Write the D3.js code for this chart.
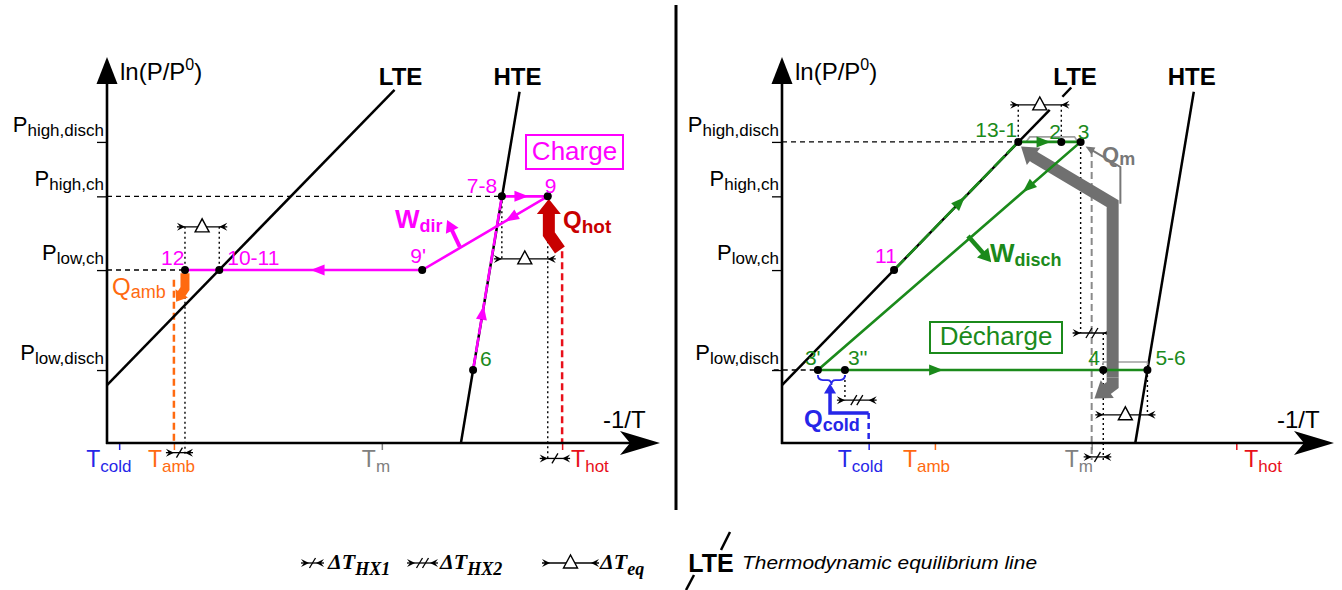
<!DOCTYPE html>
<html><head><meta charset="utf-8">
<script src="https://cdn.jsdelivr.net/npm/d3@7"></script>
<style>
html,body{margin:0;padding:0;background:#fff;}
svg{display:block;}
text{font-family:"Liberation Sans",Arial,sans-serif;}
</style></head><body>
<svg id="c" width="1342" height="590"></svg>
<script>
// ---------------- DATA ----------------
const pressureLevels = [78.0, 63.9, 44.8, 18.9];
const pressureSubs = ["high,disch", "high,ch", "low,ch", "low,disch"];
const lteLine = [[0, 15], [52, 91.5]];
const hteLine = [[64, 0], [74.6, 91]];
const tempNames = ["cold", "amb", "m", "hot"];
const chargeTemps = [2.2, 12.1, 49.7, 82.3];
const dischTemps = [15.7, 27.7, 56.1, 82.3];
const chargePointNames = ["6", "7-8", "9", "9'", "10-11", "12"];
const chargePointX = [66.2, 71.4, 79.7, 57.0, 20.3, 14.1];
const chargePointY = [18.9, 63.9, 63.9, 44.8, 44.8, 44.8];
const dischPointNames = ["11", "13-1", "2", "3", "3'", "3''", "4", "5-6"];
const dischPointX = [20.3, 42.8, 50.6, 54.1, 6.5, 11.4, 58.2, 66.2];
const dischPointY = [44.8, 78.0, 78.0, 78.0, 18.9, 18.9, 18.9, 18.9];
const legendItems = ["HX1", "HX2", "eq"];

// ---------------- LAYOUT / STYLE ----------------
const C = {mag:"#ff00ff", green:"#1b8a1b", red:"#e8101a", dred:"#c80000", orange:"#ff6a10",
           blue:"#2626e8", gray:"#707070", lgray:"#a0a0a0", tgray:"#777"};
const tempColors = [C.blue, C.orange, "#808080", C.red];
const chargeTempOffsets = [-33, -26, -20, 9];
const dischTempOffsets = [-31, -32, -27, 8];
const chargeLabelOff = {"6":[7,-4,C.green], "7-8":[-35,-3,C.mag], "9":[-3,-3,C.mag], "9'":[-12,-7,C.mag], "10-11":[8,-5,C.mag], "12":[-24,-5,C.mag]};
const dischLabelOff = {"11":[-19,-7,C.mag], "13-1":[-43,-5,C.green], "2":[-12,-3,C.green], "3":[-3,-3,C.green], "3'":[-13,-5,C.green], "3''":[3,-5,C.green], "4":[-15,-5,C.green], "5-6":[8,-5,C.green]};

const svg = d3.select("#c");
const y = d3.scaleLinear().domain([0, 100]).range([443, 57]);
const xL = d3.scaleLinear().domain([0, 100]).range([107, 660]);
const xR = d3.scaleLinear().domain([0, 100]).range([782, 1334]);

// ---------------- HELPERS ----------------
function px(xs, d) { return [xs(d[0]), y(d[1])]; }
function polyline(g, xs, pts, stroke, w, dash) {
  const p = g.append("path").attr("d", d3.line().x(d => xs(d[0])).y(d => y(d[1]))(pts))
    .attr("fill", "none").attr("stroke", stroke).attr("stroke-width", w).attr("stroke-linejoin", "miter");
  if (dash) p.attr("stroke-dasharray", dash);
  return p;
}
function arrowHead(g, tip, dir, len, w, color) {
  const L = Math.hypot(dir[0], dir[1]); const ux = dir[0] / L, uy = dir[1] / L;
  const bx = tip[0] - ux * len, by = tip[1] - uy * len, qx = -uy, qy = ux;
  g.append("path").attr("d", `M${tip[0]},${tip[1]}L${bx + qx * w / 2},${by + qy * w / 2}L${bx - qx * w / 2},${by - qy * w / 2}Z`).attr("fill", color);
}
function pathArrow(g, xs, a, b, t, color) {
  const A = px(xs, a), B = px(xs, b);
  const tip = [A[0] + t * (B[0] - A[0]), A[1] + t * (B[1] - A[1])];
  arrowHead(g, tip, [B[0] - A[0], B[1] - A[1]], 14, 11, color);
}
function thickArrow(g, xs, shaft, tip, width, len, w, color) {
  const T = px(xs, tip), S = shaft.map(d => px(xs, d));
  const last = S[S.length - 1];
  const dir = [T[0] - last[0], T[1] - last[1]];
  const L = Math.hypot(dir[0], dir[1]);
  const base = [T[0] - dir[0] / L * (len - 1), T[1] - dir[1] / L * (len - 1)];
  const pts = S.concat([base]);
  g.append("path").attr("d", d3.line()(pts)).attr("fill", "none").attr("stroke", color)
    .attr("stroke-width", width).attr("stroke-linejoin", "miter");
  arrowHead(g, T, dir, len, w, color);
}
function subText(g, x, yy, main, sub, o) {
  const t = g.append("text").attr("x", x).attr("y", yy).attr("fill", o.color || "#000")
    .attr("font-weight", o.weight || "normal").attr("font-size", o.size)
    .attr("text-anchor", o.anchor || "start");
  if (o.family) t.style("font-family", o.family);
  if (o.italic) t.attr("font-style", "italic");
  t.append("tspan").text(main);
  if (sub) t.append("tspan").attr("font-size", o.subSize).attr("dy", o.subDy === undefined ? 5 : o.subDy).text(sub);
  return t;
}
function dimMarker(g, x1, x2, yy, type) {
  const e = 8;
  g.append("line").attr("x1", x1 - e).attr("x2", x2 + e).attr("y1", yy).attr("y2", yy)
    .attr("stroke", "#000").attr("stroke-width", 1.3);
  g.append("path").attr("d", `M${x1 - e},${yy - 4}L${x1},${yy}L${x1 - e},${yy + 4}L${x1 - e + 3},${yy}Z`).attr("fill", "#000");
  g.append("path").attr("d", `M${x2 + e},${yy - 4}L${x2},${yy}L${x2 + e},${yy + 4}L${x2 + e - 3},${yy}Z`).attr("fill", "#000");
  const cx = (x1 + x2) / 2;
  if (type === "eq") {
    g.append("path").attr("d", `M${cx - 7},${yy + 5}L${cx},${yy - 8}L${cx + 7},${yy + 5}Z`)
      .attr("fill", "#fff").attr("stroke", "#000").attr("stroke-width", 1.4);
  } else {
    const offs = type === "HX1" ? [0] : [-3, 3];
    offs.forEach(o => g.append("line").attr("x1", cx + o - 3).attr("y1", yy + 5).attr("x2", cx + o + 3).attr("y2", yy - 5)
      .attr("stroke", "#000").attr("stroke-width", 1.3));
  }
}
function dm(g, xs, xa, xb, yv, type) { dimMarker(g, xs(xa), xs(xb), y(yv), type); }

function drawAxes(g, xs, temps, tempOffsets) {
  const ya = d3.axisLeft(y).tickValues(pressureLevels).tickSize(10).tickSizeOuter(0).tickFormat("");
  const ag = g.append("g").attr("transform", `translate(${xs(0)},0)`).call(ya);
  ag.select(".domain").remove();
  ag.selectAll(".tick line").attr("stroke", "#000").attr("stroke-width", 1.3);
  const xa = d3.axisBottom(xs).tickValues(temps).tickSize(7).tickSizeOuter(0).tickFormat("");
  const bg = g.append("g").attr("transform", `translate(0,${y(0)})`).call(xa);
  bg.select(".domain").remove();
  bg.selectAll(".tick line").attr("stroke", (d, i) => tempColors[i]).attr("stroke-width", 1.5);
  g.append("line").attr("x1", xs(0)).attr("x2", xs(0)).attr("y1", y(0) + 1).attr("y2", y(93))
    .attr("stroke", "#000").attr("stroke-width", 2.6);
  arrowHead(g, [xs(0), y(100)], [0, -1], 27, 21, "#000");
  g.append("line").attr("x1", xs(0) - 1).attr("x2", xs(95)).attr("y1", y(0)).attr("y2", y(0))
    .attr("stroke", "#000").attr("stroke-width", 2.6);
  const tx = xs(100), ty = y(0);
  g.append("path").attr("d", `M${tx},${ty}L${tx - 40},${ty - 12}L${tx - 30},${ty}L${tx - 40},${ty + 12}Z`).attr("fill", "#000");
  pressureLevels.forEach((p, i) => subText(g, xs(0) - 3, y(p) - 10, "P", pressureSubs[i],
    {size: 22, subSize: 17, subDy: 4, anchor: "end"}));
  const t = g.append("text").attr("x", xs(0) + 13).attr("y", 80).attr("font-size", 24);
  t.append("tspan").text("ln(P/P");
  t.append("tspan").attr("font-size", 16).attr("dy", -10).text("0");
  t.append("tspan").attr("dy", 10).text(")");
  g.append("text").attr("x", xs(100) - 57).attr("y", 428).attr("font-size", 24).text("-1/T");
  temps.forEach((tv, i) => subText(g, xs(tv) + tempOffsets[i], 467, "T", tempNames[i],
    {size: 23, subSize: 17, subDy: 5, color: tempColors[i]}));
}
function drawEquilibrium(g, xs, lteSegs) {
  lteSegs.forEach(s => polyline(g, xs, s, "#000", 2.5));
  polyline(g, xs, hteLine, "#000", 2.5);
  g.append("text").attr("x", xs(lteLine[1][0]) + 6).attr("y", 85).attr("font-size", 24).attr("font-weight", "bold")
    .attr("text-anchor", "middle").text("LTE");
  g.append("text").attr("x", xs(hteLine[1][0]) - 2).attr("y", 85).attr("font-size", 24).attr("font-weight", "bold")
    .attr("text-anchor", "middle").text("HTE");
}
const thin = (g, xs, pts, color, dash, w) => polyline(g, xs, pts, color, w || 1.4, dash);

// ================= LEFT PANEL (charge) =================
const gL = svg.append("g");
const cp = {}; chargePointNames.forEach((n, i) => cp[n] = [chargePointX[i], chargePointY[i]]);
thin(gL, xL, [[0, pressureLevels[1]], cp["7-8"]], "#000", "5,4");
thin(gL, xL, [[0, pressureLevels[2]], cp["12"]], "#000", "5,4");
thin(gL, xL, [[cp["12"][0], 56], [cp["12"][0], -3]], "#000", "2,3");
thin(gL, xL, [[cp["10-11"][0], 56], cp["10-11"]], "#000", "2,3");
thin(gL, xL, [cp["7-8"], [cp["7-8"][0], 47.7]], "#000", "2,3");
thin(gL, xL, [cp["9"], [cp["9"][0], -4.4]], "#000", "2,3");
thin(gL, xL, [[chargeTemps[1], 42.3], [chargeTemps[1], 0]], C.orange, "7,4", 2.5);
thin(gL, xL, [[chargeTemps[3], 49.7], [chargeTemps[3], 0]], C.red, "7,4", 2.5);
drawEquilibrium(gL, xL, [lteLine]);
drawAxes(gL, xL, chargeTemps, chargeTempOffsets);
dm(gL, xL, cp["12"][0], cp["10-11"][0], 56, "eq");
dm(gL, xL, cp["7-8"][0], cp["9"][0], 47.7, "eq");
dm(gL, xL, chargeTemps[1], cp["12"][0], -2.5, "HX1");
dm(gL, xL, cp["9"][0], chargeTemps[3], -4, "HX1");
polyline(gL, xL, [cp["6"], cp["7-8"]], C.mag, 2.6, "15,3");
polyline(gL, xL, [cp["7-8"], cp["9"], cp["9'"], cp["10-11"], cp["12"]], C.mag, 2.6);
pathArrow(gL, xL, cp["6"], cp["7-8"], 0.37, C.mag);
pathArrow(gL, xL, cp["7-8"], cp["9"], 0.58, C.mag);
pathArrow(gL, xL, cp["9"], cp["9'"], 0.34, C.mag);
pathArrow(gL, xL, cp["9'"], cp["10-11"], 0.55, C.mag);
thickArrow(gL, xL, [[63.8, 50.8]], [61.5, 57.8], 4, 12, 14, C.mag);
thickArrow(gL, xL, [[81.9, 50.0], [79.9, 54.1]], [79.9, 63.2], 12, 15, 24, C.dred);
thickArrow(gL, xL, [[14.1, 44.0], [14.1, 40.0]], [12.5, 36.6], 9, 10, 15, C.orange);
chargePointNames.forEach(n => gL.append("circle").attr("cx", xL(cp[n][0])).attr("cy", y(cp[n][1])).attr("r", 4).attr("fill", "#000"));
chargePointNames.forEach(n => { const o = chargeLabelOff[n];
  gL.append("text").attr("x", xL(cp[n][0]) + o[0]).attr("y", y(cp[n][1]) + o[1]).attr("font-size", 21).attr("fill", o[2]).text(n); });
subText(gL, 395, 228, "W", "dir", {size: 26, subSize: 18, weight: "bold", color: C.mag, subDy: 4});
subText(gL, 563, 228, "Q", "hot", {size: 24, subSize: 19, weight: "bold", color: C.dred, subDy: 5});
subText(gL, 112, 295, "Q", "amb", {size: 24, subSize: 18, color: C.orange, subDy: 3});
gL.append("rect").attr("x", 526).attr("y", 135).attr("width", 97).attr("height", 34).attr("fill", "none").attr("stroke", C.mag).attr("stroke-width", 2);
gL.append("text").attr("x", 574.5).attr("y", 160).attr("font-size", 26).attr("fill", C.mag).attr("text-anchor", "middle").text("Charge");

// ================= RIGHT PANEL (discharge) =================
const gR = svg.append("g");
const dp = {}; dischPointNames.forEach((n, i) => dp[n] = [dischPointX[i], dischPointY[i]]);
thin(gR, xR, [[0, pressureLevels[0]], dp["13-1"]], "#000", "5,4");
thin(gR, xR, [[-1.5, pressureLevels[3]], dp["3'"]], "#000", "5,4");
thin(gR, xR, [[dp["13-1"][0], 87.6], dp["13-1"]], "#000", "2,3");
thin(gR, xR, [[dp["2"][0], 87.6], dp["2"]], "#000", "2,3");
thin(gR, xR, [dp["3"], [dp["3"][0], 28.5]], "#000", "2,3");
thin(gR, xR, [[dp["4"][0], 28.5], [dp["4"][0], -4.4]], "#000", "2,3");
thin(gR, xR, [dp["5-6"], [dp["5-6"][0], 7.3]], "#000", "2,3");
thin(gR, xR, [dp["3''"], [dp["3''"][0], 11.1]], "#000", "2,3");
thin(gR, xR, [[dischTemps[2], 75.9], [dischTemps[2], -4.4]], "#8a8a8a", "7,4", 2);
thin(gR, xR, [[dischTemps[0], 7.8], [dischTemps[0], 0]], C.blue, "6,4", 2.5);
drawEquilibrium(gR, xR, [[lteLine[0], [48.5, 86.3]], [[50.8, 89.7], [52.4, 92.1]]]);
drawAxes(gR, xR, dischTemps, dischTempOffsets);
dm(gR, xR, dp["13-1"][0], dp["2"][0], 87.6, "eq");
dm(gR, xR, dp["3"][0], dp["4"][0], 28.5, "HX2");
dm(gR, xR, dp["4"][0], dp["5-6"][0], 7.3, "eq");
dm(gR, xR, dischTemps[2], dp["4"][0], -3.6, "HX1");
dm(gR, xR, dp["3''"][0], dischTemps[0], 11.1, "HX2");
thin(gR, xR, [[44.3, 78.2], [44.9, 79.3], [53.0, 79.3], [53.5, 78.2]], C.lgray, null, 1.6);
thin(gR, xR, [[58.2, 20.2], [58.2, 21.0], [66.2, 21.0], [66.2, 20.2]], C.lgray, null, 1.6);
thickArrow(gR, xR, [[59.9, 17.0], [59.9, 62.0], [45.8, 74.0]], [43.3, 76.8], 12, 16, 22, C.gray);
thickArrow(gR, xR, [[59.9, 17.0], [59.9, 15.0]], [56.6, 11.5], 12, 16, 22, C.gray);
thickArrow(gR, xR, [[61.3, 62.0], [61.3, 71.5], [56.6, 75.5]], [55.0, 76.8], 2, 9, 8, C.tgray);
polyline(gR, xR, [dp["11"], dp["13-1"]], C.green, 2.6, "15,3");
polyline(gR, xR, [dp["13-1"], dp["3"], dp["3'"], dp["5-6"]], C.green, 2.6);
pathArrow(gR, xR, dp["11"], dp["13-1"], 0.57, C.green);
pathArrow(gR, xR, dp["13-1"], dp["2"], 0.75, C.green);
pathArrow(gR, xR, dp["3"], dp["3'"], 0.22, C.green);
pathArrow(gR, xR, dp["3'"], dp["5-6"], 0.38, C.green);
thickArrow(gR, xR, [[33.7, 53.6]], [37.9, 46.8], 4.5, 13, 15, C.green);
(function () {
  const a = px(xR, dp["3'"]), b = px(xR, dp["3''"]), m = (a[0] + b[0]) / 2, yy = a[1] + 5;
  gR.append("path").attr("d", `M${a[0]},${yy}Q${a[0]},${yy + 5} ${a[0] + 5},${yy + 5}L${m - 4},${yy + 5}Q${m},${yy + 5} ${m},${yy + 10}Q${m},${yy + 5} ${m + 4},${yy + 5}L${b[0] - 5},${yy + 5}Q${b[0]},${yy + 5} ${b[0]},${yy}`)
    .attr("fill", "none").attr("stroke", C.blue).attr("stroke-width", 1.8);
})();
thickArrow(gR, xR, [[dischTemps[0], 7.8], [8.7, 7.8], [8.7, 12.0]], [8.7, 15.4], 3.5, 10, 12, C.blue);
dischPointNames.forEach(n => gR.append("circle").attr("cx", xR(dp[n][0])).attr("cy", y(dp[n][1])).attr("r", 4).attr("fill", "#000"));
dischPointNames.forEach(n => { const o = dischLabelOff[n];
  gR.append("text").attr("x", xR(dp[n][0]) + o[0]).attr("y", y(dp[n][1]) + o[1]).attr("font-size", 21).attr("fill", o[2]).text(n); });
subText(gR, 990, 262, "W", "disch", {size: 26, subSize: 18, weight: "bold", color: C.green, subDy: 4});
subText(gR, 1102, 162, "Q", "m", {size: 22, subSize: 18, weight: "bold", color: C.tgray, subDy: 3});
subText(gR, 804, 427, "Q", "cold", {size: 24, subSize: 18, weight: "bold", color: C.blue, subDy: 4});
gR.append("rect").attr("x", 930).attr("y", 322).attr("width", 132).attr("height", 31).attr("fill", "#fff").attr("stroke", C.green).attr("stroke-width", 2);
gR.append("text").attr("x", 996).attr("y", 345).attr("font-size", 26).attr("fill", C.green).attr("text-anchor", "middle").text("Décharge");

svg.append("line").attr("x1", 676).attr("x2", 676).attr("y1", 5).attr("y2", 510).attr("stroke", "#000").attr("stroke-width", 3);

// ================= LEGEND =================
const gLeg = svg.append("g");
const legX = [[309, 316, 328], [415, 430, 440], [550, 591, 600]];
legendItems.forEach((it, i) => {
  dimMarker(gLeg, legX[i][0], legX[i][1], 563, it);
  subText(gLeg, legX[i][2], 569, "ΔT", it, {size: 22, subSize: 18, weight: "bold", italic: true,
    family: "'Liberation Serif','DejaVu Serif',serif", subDy: 6});
});
gLeg.append("text").attr("x", 711).attr("y", 572).attr("font-size", 25).attr("font-weight", "bold").attr("text-anchor", "middle").text("LTE");
gLeg.append("line").attr("x1", 721).attr("y1", 550).attr("x2", 730).attr("y2", 532).attr("stroke", "#000").attr("stroke-width", 2.5);
gLeg.append("line").attr("x1", 686).attr("y1", 590).attr("x2", 694).attr("y2", 575).attr("stroke", "#000").attr("stroke-width", 2.5);
gLeg.append("text").attr("x", 742).attr("y", 569).attr("font-size", 19).attr("font-style", "italic")
  .attr("textLength", 295).attr("lengthAdjust", "spacingAndGlyphs").text("Thermodynamic equilibrium line");
</script>
</body></html>
